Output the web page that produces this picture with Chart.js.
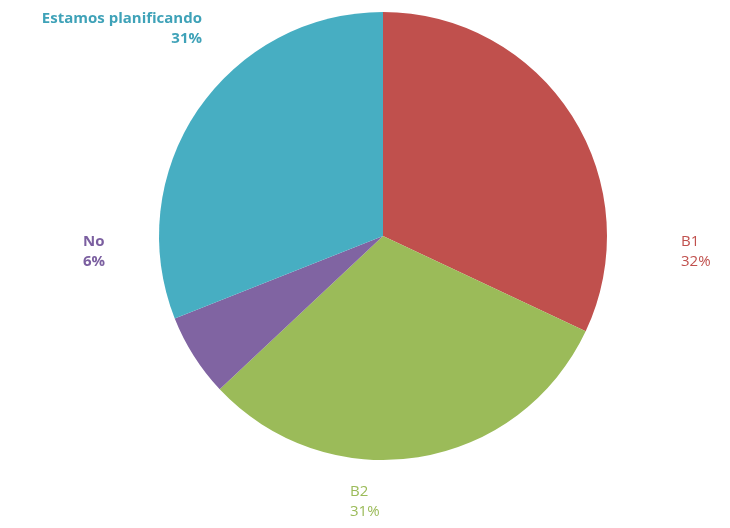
<!DOCTYPE html>
<html><head><meta charset="utf-8">
<script src="https://cdn.jsdelivr.net/npm/chart.js@4/dist/chart.umd.min.js"></script>
<style>html,body{margin:0;padding:0;background:#fff}#wrap{width:730px;height:528px}</style>
</head><body><div id="wrap"><canvas id="c" width="730" height="528"></canvas></div>
<script>
const categories = ["B1", "B2", "No", "Estamos planificando"];
const values = [32, 31, 6, 31];
const percentLabels = ["32%", "31%", "6%", "31%"];
const sliceColors = ["#C0504D", "#9BBB59", "#8064A2", "#47AEC2"];
const textColors = ["#C0504D", "#9BBB59", "#7B5FA0", "#3FA2B8"];

// label placement (offsets from pie centre), alignment and weight per slice
const labelPos = [
  {dx: 298, dy: 6, align: "left", bold: false},
  {dx: -33, dy: 256, align: "left", bold: false},
  {dx: -300, dy: 6, align: "left", bold: true},
  {dx: -181, dy: -217, align: "right", bold: true}
];

const labelPlugin = {
  id: "outLabels",
  afterDraw(chart) {
    const ctx = chart.ctx;
    const arc = chart.getDatasetMeta(0).data[0];
    const cx = arc.x, cy = arc.y;
    ctx.save();
    ctx.textBaseline = "middle";
    categories.forEach((name, i) => {
      const p = labelPos[i];
      ctx.font = (p.bold ? "bold " : "") + "15px 'Open Sans', sans-serif";
      ctx.fillStyle = textColors[i];
      ctx.textAlign = p.align;
      ctx.fillText(name, cx + p.dx, cy + p.dy);
      ctx.fillText(percentLabels[i], cx + p.dx, cy + p.dy + 20);
    });
    ctx.restore();
  }
};

new Chart(document.getElementById("c"), {
  type: "pie",
  data: {
    labels: categories,
    datasets: [{ data: values, backgroundColor: sliceColors, borderWidth: 0, hoverOffset: 0 }]
  },
  options: {
    responsive: false,
    animation: false,
    layout: { padding: { top: 12, bottom: 68, left: 158, right: 122 } },
    plugins: { legend: { display: false }, tooltip: { enabled: false } }
  },
  plugins: [labelPlugin]
});
</script></body></html>
